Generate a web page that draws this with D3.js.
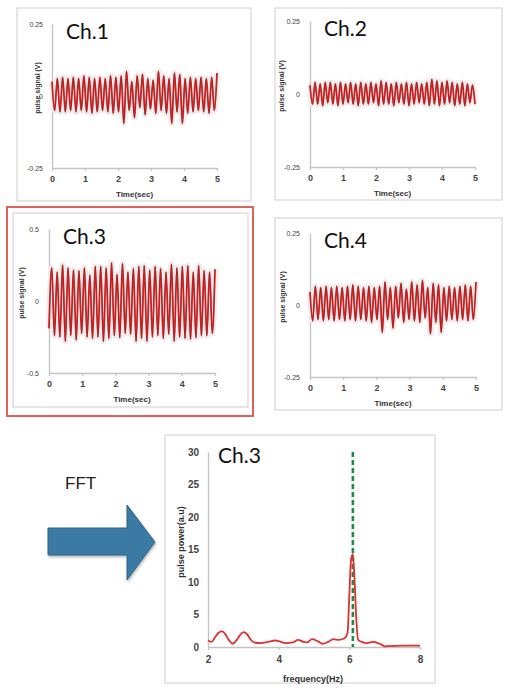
<!DOCTYPE html>
<html>
<head>
<meta charset="utf-8">
<script src="https://cdn.jsdelivr.net/npm/d3@7"></script>
<style>
  body { margin: 0; background: #fff; }
  svg { display: block; }
  .tick text { font-family: "Liberation Sans", Arial, sans-serif; fill: #444; }
  .axis-title { font-family: "Liberation Sans", Arial, sans-serif; font-weight: bold; fill: #333; }
  .ch-label { font-family: Lato, "Open Sans", sans-serif; fill: #111; }
</style>
</head>
<body>
<div id="chart"></div>
<script>
// time axis ticks (seconds)
const timeTicks = [0, 1, 2, 3, 4, 5];

// signal extrema (V), alternating, spread evenly over 0-5 s
const ch1Signal = [0.05, -0.05, 0.06, -0.055, 0.065, -0.055, 0.06, -0.05, 0.065, -0.055,
  0.06, -0.05, 0.07, -0.055, 0.065, -0.06, 0.06, -0.055, 0.065, -0.05,
  0.06, -0.055, 0.07, -0.06, 0.065, -0.055, 0.07, -0.095, 0.085, -0.05,
  0.05, -0.075, 0.07, -0.04, 0.075, -0.065, 0.06, -0.045, 0.055, -0.06,
  0.085, -0.05, 0.07, -0.06, 0.06, -0.095, 0.08, -0.055, 0.075, -0.095,
  0.06, -0.06, 0.065, -0.055, 0.06, -0.05, 0.065, -0.055, 0.06, -0.06,
  0.065, -0.05, 0.08];

const ch2Signal = [0.03, -0.035, 0.04, -0.035, 0.035, -0.04, 0.04, -0.03, 0.04, -0.035,
  0.035, -0.04, 0.04, -0.035, 0.035, -0.03, 0.04, -0.035, 0.035, -0.04,
  0.04, -0.035, 0.035, -0.035, 0.04, -0.03, 0.035, -0.04, 0.045, -0.035,
  0.04, -0.035, 0.035, -0.04, 0.04, -0.03, 0.035, -0.035, 0.04, -0.04,
  0.035, -0.035, 0.04, -0.03, 0.035, -0.035, 0.04, -0.04, 0.05, -0.035,
  0.045, -0.04, 0.04, -0.035, 0.045, -0.03, 0.04, -0.04, 0.035, -0.035,
  0.04, -0.04, 0.035, -0.03, 0.03, -0.035];

const ch3Signal = [-0.19, 0.23, -0.24, 0.20, -0.25, 0.25, -0.28, 0.23, -0.24, 0.215,
  -0.27, 0.21, -0.225, 0.23, -0.25, 0.18, -0.26, 0.24, -0.25, 0.24,
  -0.28, 0.23, -0.26, 0.265, -0.24, 0.185, -0.255, 0.26, -0.225, 0.20,
  -0.23, 0.225, -0.28, 0.24, -0.26, 0.245, -0.28, 0.215, -0.25, 0.24,
  -0.24, 0.225, -0.26, 0.20, -0.23, 0.255, -0.28, 0.23, -0.25, 0.24,
  -0.26, 0.245, -0.265, 0.20, -0.255, 0.245, -0.24, 0.21, -0.24, 0.20,
  -0.225, 0.22];

const ch4Signal = [0.045, -0.055, 0.065, -0.05, 0.06, -0.055, 0.065, -0.05, 0.06, -0.055,
  0.065, -0.05, 0.06, -0.055, 0.065, -0.05, 0.07, -0.055, 0.065, -0.05,
  0.06, -0.055, 0.065, -0.06, 0.06, -0.05, 0.065, -0.095, 0.08, -0.05,
  0.06, -0.08, 0.065, -0.045, 0.075, -0.06, 0.055, -0.05, 0.08, -0.055,
  0.07, -0.06, 0.085, -0.045, 0.06, -0.1, 0.075, -0.06, 0.07, -0.095,
  0.06, -0.055, 0.065, -0.05, 0.06, -0.055, 0.065, -0.05, 0.07, -0.055,
  0.065, -0.05, 0.08];

// FFT of Ch.3
const fftFreq = [2.0, 2.1, 2.2, 2.3, 2.4, 2.5, 2.6, 2.7, 2.8, 2.9, 3.0, 3.1, 3.2, 3.3, 3.5, 3.7,
  3.9, 4.0, 4.2, 4.4, 4.55, 4.7, 4.8, 4.95, 5.1, 5.25, 5.4, 5.55, 5.7, 5.85, 5.95, 6.0,
  6.05, 6.1, 6.15, 6.2, 6.25, 6.35, 6.5, 6.6, 6.7, 6.8, 6.9, 7.0, 7.1, 7.5, 8.0];
const fftPower = [1.0, 0.8, 1.5, 2.2, 2.4, 1.9, 1.0, 0.5, 1.0, 1.8, 2.3, 2.0, 1.2, 0.7, 0.6, 0.8,
  1.0, 0.9, 0.6, 0.7, 1.1, 0.8, 0.7, 1.2, 0.9, 0.5, 0.8, 1.2, 1.1, 1.3, 2.2, 8.0,
  13.5, 14.3, 10.0, 4.0, 1.1, 0.8, 0.6, 0.7, 0.8, 0.6, 0.4, 0.1, 0.15, 0.2, 0.2];
const fftPeakFreq = 6.1;
const fftFreqTicks = [2, 4, 6, 8];
const fftPowerTicks = [0, 5, 10, 15, 20, 25, 30];

const width = 507, height = 695;
const svg = d3.select("#chart").append("svg")
  .attr("width", width)
  .attr("height", height);

const axisGray = "#c4c4c4";

function drawTimePanel(p) {
  // panel frame
  svg.append("rect")
    .attr("x", p.frame[0]).attr("y", p.frame[1])
    .attr("width", p.frame[2] - p.frame[0]).attr("height", p.frame[3] - p.frame[1])
    .attr("fill", "#fff").attr("stroke", "#d6d6d6").attr("stroke-width", 1.2);

  const x = d3.scaleLinear().domain([0, 5]).range([p.x0, p.x1]);
  const y = d3.scaleLinear().domain([-p.lim, p.lim]).range([p.yBot, p.yTop]);

  // y axis
  const yAxis = svg.append("g")
    .attr("transform", `translate(${p.x0},0)`)
    .call(d3.axisLeft(y).tickValues([-p.lim, 0, p.lim]).tickSize(0).tickPadding(p.yPad)
      .tickFormat(d => String(d)));
  yAxis.select(".domain").attr("stroke", axisGray).attr("stroke-width", 1.4);
  yAxis.selectAll(".tick text").attr("font-size", 7).attr("fill", "#333");

  // x axis
  const xAxis = svg.append("g")
    .attr("transform", `translate(0,${p.yBot})`)
    .call(d3.axisBottom(x).tickValues(timeTicks).tickSize(3).tickPadding(5).tickSizeOuter(0)
      .tickFormat(d => String(d)));
  xAxis.select(".domain").attr("stroke", axisGray).attr("stroke-width", 1.4);
  xAxis.selectAll(".tick line").attr("stroke", axisGray).attr("stroke-width", 1.2);
  xAxis.selectAll(".tick text").attr("font-size", 9).attr("font-weight", "bold").attr("fill", "#333");

  // signal
  const n = p.data.length;
  const pts = p.data.map((v, i) => [i * 5 / (n - 1), v]);
  const line = d3.line()
    .x(d => x(d[0]))
    .y(d => y(d[1]))
    .curve(d3.curveMonotoneX);

  svg.append("path").datum(pts)
    .attr("d", line).attr("fill", "none")
    .attr("stroke", "#ececec").attr("stroke-width", 6).attr("stroke-linejoin", "round");
  svg.append("path").datum(pts)
    .attr("d", line).attr("fill", "none")
    .attr("stroke", "#dc2a2c").attr("stroke-width", 1.8).attr("stroke-linejoin", "round");
  svg.append("path").datum(pts)
    .attr("d", line).attr("fill", "none")
    .attr("stroke", "#8c1818").attr("stroke-width", 0.5).attr("stroke-linejoin", "round");

  // titles
  svg.append("text").attr("class", "axis-title")
    .attr("x", (p.x0 + p.x1) / 2).attr("y", p.yBot + 29)
    .attr("text-anchor", "middle").attr("font-size", 8)
    .text("Time(sec)");
  svg.append("text").attr("class", "axis-title")
    .attr("transform", `translate(${p.labelX},${(p.yTop + p.yBot) / 2 - 8}) rotate(-90)`)
    .attr("text-anchor", "middle").attr("font-size", 7)
    .text("pulse signal (V)");
  svg.append("text").attr("class", "ch-label")
    .attr("x", p.x0 + 14).attr("y", p.yTop + 15)
    .attr("font-size", 21)
    .text(p.name);
}

// Ch.3 highlight box
svg.append("rect")
  .attr("x", 7).attr("y", 207).attr("width", 246).attr("height", 209)
  .attr("fill", "none").attr("stroke", "#e0605a").attr("stroke-width", 2);

drawTimePanel({ name: "Ch.1", data: ch1Signal, lim: 0.25, frame: [17, 8, 251, 201],
  x0: 52, x1: 217, yTop: 24, yBot: 168, yPad: 9, labelX: 40 });
drawTimePanel({ name: "Ch.2", data: ch2Signal, lim: 0.25, frame: [275, 8, 502, 200],
  x0: 310, x1: 475, yTop: 21, yBot: 167, yPad: 10, labelX: 284 });
drawTimePanel({ name: "Ch.3", data: ch3Signal, lim: 0.5, frame: [13, 213, 248, 407],
  x0: 49, x1: 215, yTop: 229, yBot: 373, yPad: 10, labelX: 24 });
drawTimePanel({ name: "Ch.4", data: ch4Signal, lim: 0.25, frame: [275, 218, 502, 410],
  x0: 310, x1: 476, yTop: 233, yBot: 377, yPad: 10, labelX: 285 });

// FFT arrow
svg.append("path")
  .attr("d", "M48,528 H127 V505 L155,542 L127,580 V555 H48 Z")
  .attr("fill", "#3a7aa4").attr("stroke", "#2f6589").attr("stroke-width", 1)
  .style("filter", "drop-shadow(1px 2px 1px rgba(0,0,0,0.25))");
svg.append("text")
  .attr("x", 65).attr("y", 489)
  .attr("font-family", "\"Liberation Sans\", Arial, sans-serif")
  .attr("font-size", 17).attr("fill", "#222")
  .text("FFT");

// FFT panel
svg.append("rect")
  .attr("x", 165).attr("y", 435).attr("width", 270).attr("height", 248)
  .attr("fill", "#fff").attr("stroke", "#d6d6d6").attr("stroke-width", 1.2);

const fx = d3.scaleLinear().domain([2, 8]).range([208, 420]);
const fy = d3.scaleLinear().domain([0, 30]).range([647, 452]);

const fyAxis = svg.append("g")
  .attr("transform", "translate(208,0)")
  .call(d3.axisLeft(fy).tickValues(fftPowerTicks).tickSize(0).tickPadding(9)
    .tickFormat(d => String(d)));
fyAxis.select(".domain").attr("stroke", axisGray).attr("stroke-width", 1.4);
fyAxis.selectAll(".tick text").attr("font-size", 10).attr("font-weight", "bold").attr("fill", "#333");

const fxAxis = svg.append("g")
  .attr("transform", "translate(0,647)")
  .call(d3.axisBottom(fx).tickValues(fftFreqTicks).tickSize(3).tickPadding(6).tickSizeOuter(0)
    .tickFormat(d => String(d)));
fxAxis.select(".domain").attr("stroke", axisGray).attr("stroke-width", 1.4);
fxAxis.selectAll(".tick line").attr("stroke", axisGray).attr("stroke-width", 1.2);
fxAxis.selectAll(".tick text").attr("font-size", 10).attr("font-weight", "bold").attr("fill", "#333");

// peak marker
svg.append("line")
  .attr("x1", fx(fftPeakFreq)).attr("x2", fx(fftPeakFreq))
  .attr("y1", fy(30)).attr("y2", fy(0))
  .attr("stroke", "#1d8a45").attr("stroke-width", 2.6)
  .attr("stroke-dasharray", "5,3");

const fftLine = d3.line()
  .x((d, i) => fx(fftFreq[i]))
  .y(d => fy(d))
  .curve(d3.curveMonotoneX);
svg.append("path").datum(fftPower)
  .attr("d", fftLine).attr("fill", "none")
  .attr("stroke", "#e0302e").attr("stroke-width", 1.8);

svg.append("text").attr("class", "axis-title")
  .attr("x", 313).attr("y", 682)
  .attr("text-anchor", "middle").attr("font-size", 9)
  .text("frequency(Hz)");
svg.append("text").attr("class", "axis-title")
  .attr("transform", "translate(184,542) rotate(-90)")
  .attr("text-anchor", "middle").attr("font-size", 9)
  .text("pulse power(a.u)");
svg.append("text").attr("class", "ch-label")
  .attr("x", 218).attr("y", 463)
  .attr("font-size", 21)
  .text("Ch.3");
</script>
</body>
</html>
